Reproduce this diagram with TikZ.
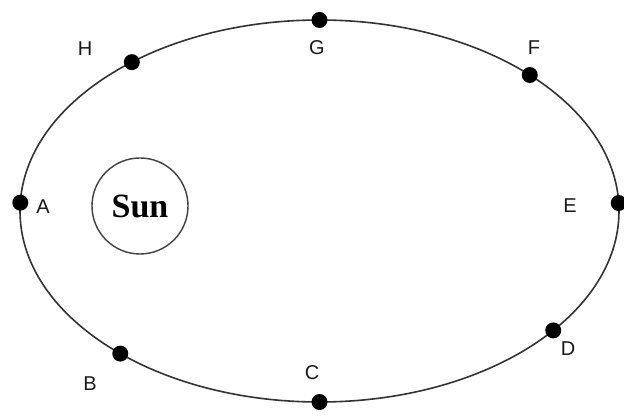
\documentclass[tikz,border=0pt]{standalone}
\usepackage{fontspec}
\setmainfont{Liberation Serif}
\setsansfont{Liberation Sans}
\begin{document}
\begin{tikzpicture}[x=1pt,y=-1pt,
  orbit/.style={draw=black!80,line width=1.6pt},
  planet/.style={circle,fill=black,inner sep=0pt,minimum size=16pt},
  lbl/.style={font=\sffamily\fontsize{20}{20}\selectfont,inner sep=0pt,text=black!90},
  sunbox/.style={circle,draw=black!75,line width=1.4pt,minimum size=96pt,inner sep=0pt,
     font=\bfseries\fontsize{34}{34}\selectfont}]
\useasboundingbox (0,0) rectangle (624,419);
\def\cx{319.5}\def\cy{211}\def\ra{299.5}\def\rb{191}
\draw[orbit] (\cx,\cy) ellipse [x radius=\ra pt, y radius=\rb pt];
\foreach \n/\t in {A/177.5,B/228.3,C/270,D/321.3,E/2.4,F/45.4,G/90,H/128.8}{
  \node[planet] (\n) at ({\cx+\ra*cos(\t)},{\cy-\rb*sin(\t)}) {};
}
\node[sunbox] (sun) at (140,206) {Sun};
\node[lbl] (lA) at (43,207) {A};
\node[lbl] (lB) at (90,384) {B};
\node[lbl] (lC) at (312,373) {C};
\node[lbl] (lD) at (568,349) {D};
\node[lbl] (lE) at (570,206) {E};
\node[lbl] (lF) at (534,48) {F};
\node[lbl] (lG) at (317,48) {G};
\node[lbl] (lH) at (85,49) {H};
\end{tikzpicture}
\end{document}
